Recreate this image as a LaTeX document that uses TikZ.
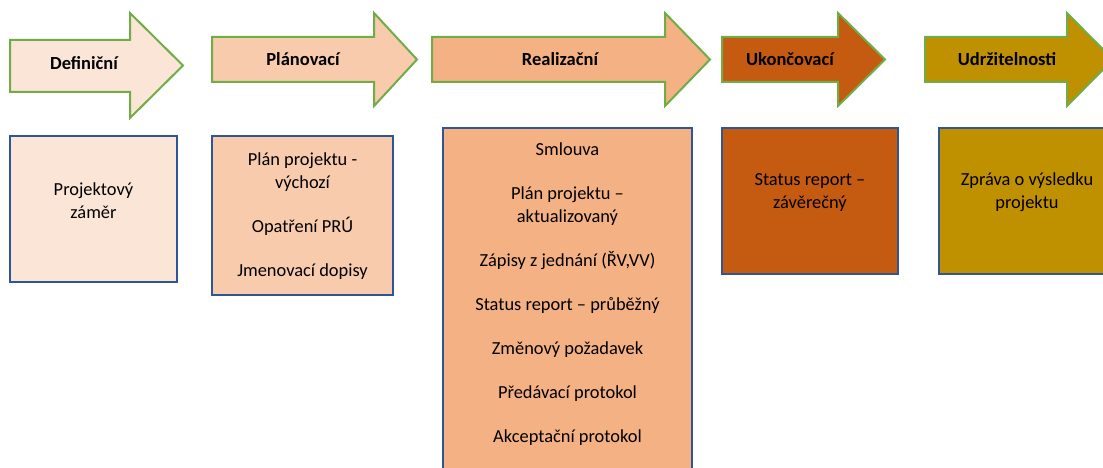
\documentclass[tikz,border=0pt]{standalone}
\usepackage{fontspec}
\setmainfont{Carlito}
\usepackage{tikz}
\usetikzlibrary{positioning}
\definecolor{fazeA}{HTML}{FBE5D6}
\definecolor{fazeB}{HTML}{F8CBAD}
\definecolor{fazeC}{HTML}{F4B183}
\definecolor{fazeD}{HTML}{C55A11}
\definecolor{fazeE}{HTML}{BF9000}
\definecolor{zelena}{HTML}{70AD47}
\definecolor{modra}{HTML}{2F5597}
\tikzstyle{faze}=[
        draw=zelena,
        line width=2pt,
        line join=miter
]
\tikzstyle{nazev}=[text=black,font=\fontsize{18.5}{22}\selectfont\bfseries]
\tikzstyle{dokument}=[rectangle,draw=modra,line width=2pt,inner sep=0pt]
\tikzstyle{popis}=[align=center,text=black,font=\fontsize{18.4}{23}\selectfont]

\begin{document}
\begin{tikzpicture}[x=1pt,y=-1pt]
\useasboundingbox (0,0) rectangle (1103,468);
\clip (0,0) rectangle (1103,468);
%Sipky faze
\filldraw[faze,fill=fazeA] (10,40) -- (130,40) -- (130,13) -- (183,65.5) -- (130,118) -- (130,92) -- (10,92) -- cycle;
\filldraw[faze,fill=fazeB] (212,37) -- (374,37) -- (374,13) -- (417,59.5) -- (374,106) -- (374,82) -- (212,82) -- cycle;
\filldraw[faze,fill=fazeC] (432,37) -- (665,37) -- (665,13) -- (710,59.5) -- (665,106) -- (665,82) -- (432,82) -- cycle;
\filldraw[faze,fill=fazeD] (722,37) -- (838,37) -- (838,13) -- (885,59.5) -- (838,106) -- (838,82) -- (722,82) -- cycle;
\filldraw[faze,fill=fazeE] (925,37) -- (1067,37) -- (1067,13) -- (1113,59.5) -- (1067,106) -- (1067,82) -- (925,82) -- cycle;
\node[nazev] (definicni) at (84,63) {Definiční};
\node[nazev] (planovaci) at (303,59) {Plánovací};
\node[nazev] (realizacni) at (560,59) {Realizační};
\node[nazev] (ukoncovaci) at (790,59) {Ukončovací};
\node[nazev] (udrzitelnost) at (1007,59) {Udržitelnosti};
%Dokumenty
\node[dokument,fill=fazeA,minimum width=167pt,minimum height=146pt] (boxA) at (93.5,209) {};
\node[dokument,fill=fazeB,minimum width=181pt,minimum height=159pt] (boxB) at (302.5,215.5) {};
\node[dokument,fill=fazeC,minimum width=249pt,minimum height=352pt] (boxC) at (567.5,304) {};
\node[dokument,fill=fazeD,minimum width=176pt,minimum height=146pt] (boxD) at (810,201) {};
\node[dokument,fill=fazeE,minimum width=176pt,minimum height=146pt] (boxE) at (1027,201) {};
\node[popis] (textA) at (boxA.center |- 0,200.5) {Projektový\\záměr};
\node[popis] (textB) at (boxB.center |- 0,216) {Plán projektu -\\výchozí\\[21pt]Opatření PRÚ\\[21pt]Jmenovací dopisy};
\node[popis] (textC) at (boxC.center |- 0,294.5) {Smlouva\\[21pt]Plán projektu --\\aktualizovaný\\[21pt]Zápisy z jednání (ŘV,VV)\\[21pt]Status report -- průběžný\\[21pt]Změnový požadavek\\[21pt]Předávací protokol\\[21pt]Akceptační protokol};
\node[popis] (textD) at (boxD.center |- 0,192.5) {Status report --\\závěrečný};
\node[popis] (textE) at (boxE.center |- 0,192.5) {Zpráva o výsledku\\projektu};
\end{tikzpicture}
\end{document}
